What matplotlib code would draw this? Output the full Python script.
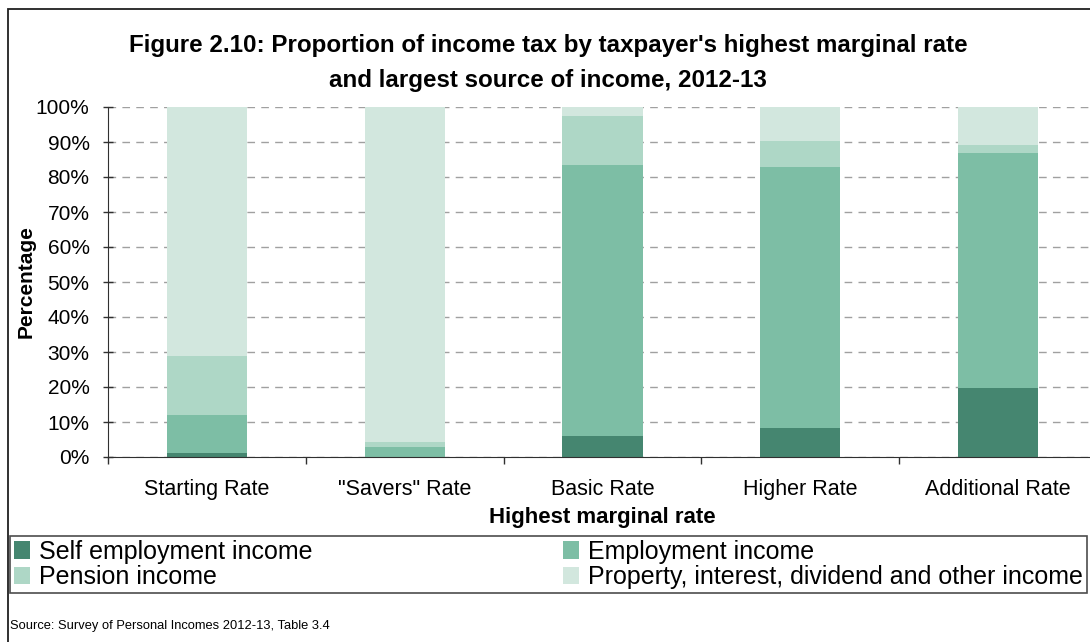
import matplotlib
matplotlib.use("Agg")
import matplotlib.pyplot as plt
from matplotlib.patches import Rectangle
from matplotlib.ticker import FixedLocator, PercentFormatter
import numpy as np

plt.rcParams['font.family'] = ['Liberation Sans', 'DejaVu Sans']

categories = ['Starting Rate', '"Savers" Rate', 'Basic Rate', 'Higher Rate', 'Additional Rate']
series_names = ['Self employment income', 'Employment income', 'Pension income',
                'Property, interest, dividend and other income']
self_employment = [1.2, 0.0, 6.1, 8.4, 19.7]
employment = [10.8, 2.9, 77.3, 74.5, 67.2]
pension = [16.9, 1.5, 14.0, 7.4, 2.2]
property_other = [71.1, 95.6, 2.6, 9.7, 10.9]
colors = ['#458670', '#7dbea5', '#aed7c6', '#d2e7de']

W, H = 1090, 642
fig = plt.figure(figsize=(W / 100, H / 100), dpi=100)

# axes placed in pixel terms (the plot runs slightly past the right edge)
left, right, bottom, top = 108.3, 1096.7, 457, 107
ax = fig.add_axes([left / W, (H - bottom) / H, (right - left) / W, (bottom - top) / H])

x = np.arange(len(categories))
base = np.zeros(len(categories))
for vals, name, col in zip([self_employment, employment, pension, property_other], series_names, colors):
    ax.bar(x, vals, width=0.405, bottom=base, color=col, label=name, zorder=2, linewidth=0)
    base += np.array(vals)

ax.set_xlim(-0.5, len(categories) - 0.5)
ax.set_ylim(0, 100)

# y axis
ax.yaxis.set_major_locator(FixedLocator(np.arange(0, 101, 10)))
ax.yaxis.set_major_formatter(PercentFormatter(decimals=0))
ax.tick_params(axis='y', direction='inout', length=7, width=1, color='#303030',
               labelsize=15, pad=10)
ax.grid(axis='y', color='#a0a0a0', linestyle=(0, (5.5, 4.5)), linewidth=1.0, zorder=0)

# x axis: ticks at category boundaries, labels at centers
ax.set_xticks(np.arange(-0.5, len(categories), 1.0))
ax.set_xticklabels([])
ax.set_xticks(x, minor=True)
ax.set_xticklabels(categories, minor=True, fontsize=15.5)
ax.tick_params(axis='x', which='major', direction='out', length=5, width=1, color='#303030')
ax.tick_params(axis='x', which='minor', length=0, pad=16)

for s in ['top', 'right']:
    ax.spines[s].set_visible(False)
ax.spines['left'].set_color('#303030')
ax.spines['bottom'].set_color('#303030')

ax.set_xlabel('Highest marginal rate', fontsize=16, fontweight='bold', labelpad=5)
ax.set_ylabel('Percentage', fontsize=15, fontweight='bold', labelpad=0)

fig.text(548 / W, 1 - 52 / H, "Figure 2.10: Proportion of income tax by taxpayer's highest marginal rate",
         ha='center', va='baseline', fontsize=17.4, fontweight='bold')
fig.text(548 / W, 1 - 87 / H, "and largest source of income, 2012-13",
         ha='center', va='baseline', fontsize=17.4, fontweight='bold')

# row-major legend order: column-major fill needs the pairs interleaved
handles, labels = ax.get_legend_handles_labels()
order = [0, 2, 1, 3]
leg = fig.legend([handles[i] for i in order], [labels[i] for i in order], ncol=2, loc='upper left',
                 bbox_to_anchor=(10 / W, 1 - 602 / H, (1087 - 10) / W, 66 / H),
                 mode='expand', fontsize=18, frameon=True, fancybox=False,
                 edgecolor='#202020', handlelength=0.64, handleheight=0.68,
                 handletextpad=0.36, labelspacing=0.05, borderpad=0.15,
                 borderaxespad=0)
leg.get_frame().set_linewidth(1.2)

fig.text(10 / W, 1 - 626 / H, 'Source: Survey of Personal Incomes 2012-13, Table 3.4',
         ha='left', va='center', fontsize=9.3)

# outer frame
fig.patches.append(Rectangle((8 / W, -0.2), 1.2, 1.2 - 9 / H, transform=fig.transFigure,
                             fill=False, edgecolor='#202020', linewidth=1.3))

fig.savefig('out.png', dpi=100)
